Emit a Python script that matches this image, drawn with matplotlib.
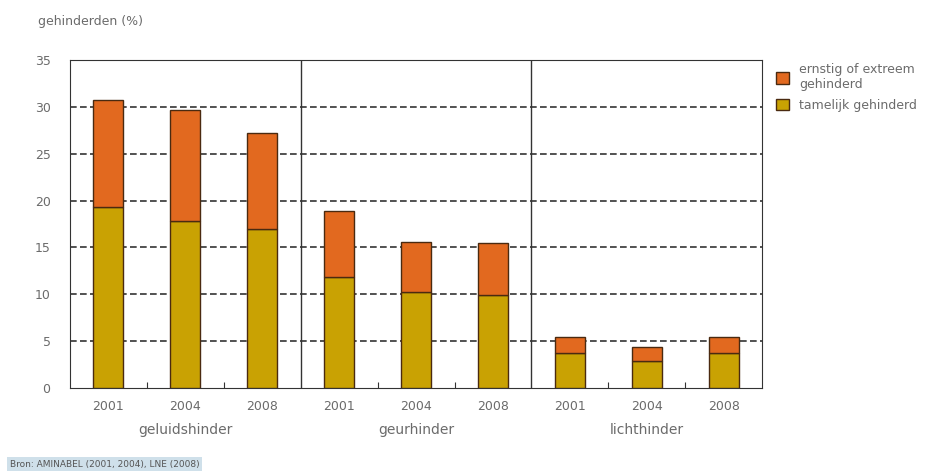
import matplotlib.pyplot as plt
import matplotlib.transforms as mtransforms
from matplotlib.patches import Patch

# Gegevens
groepen = ['geluidshinder', 'geurhinder', 'lichthinder']
jaren = ['2001', '2004', '2008']
tamelijk = [19.3, 17.8, 17.0, 11.8, 10.2, 9.9, 3.7, 2.9, 3.7]
ernstig = [11.4, 11.9, 10.2, 7.1, 5.4, 5.6, 1.7, 1.5, 1.8]

kleur_oranje = '#E2691F'
kleur_geel = '#C9A203'
rand = '#4a2a10'
grijs = '#6b6b6b'

fig = plt.figure(figsize=(9.33, 4.71), dpi=100)
ax = fig.add_axes([0.075, 0.176, 0.742, 0.697])

x = list(range(len(tamelijk)))
ax.bar(x, tamelijk, width=0.39, color=kleur_geel, edgecolor=rand, linewidth=1, zorder=3)
ax.bar(x, ernstig, width=0.39, bottom=tamelijk, color=kleur_oranje, edgecolor=rand,
       linewidth=1, zorder=3)

ax.set_xlim(-0.5, 8.5)
ax.set_ylim(0, 35)
ax.set_yticks(range(0, 36, 5))
for y in range(5, 35, 5):
    ax.axhline(y, color='#333333', linestyle=(0, (4, 2)), linewidth=1.2, zorder=1)

# scheidingslijnen tussen groepen
for xd in [2.5, 5.5]:
    ax.axvline(xd, color='#333333', linewidth=1, zorder=2)

ax.set_xticks([0.5, 1.5, 3.5, 4.5, 6.5, 7.5])
ax.set_xticklabels([])
ax.tick_params(axis='x', direction='in', length=4, color='#333333')
ax.tick_params(axis='y', length=0, labelcolor=grijs, labelsize=9, pad=14)
for s in ax.spines.values():
    s.set_color('#333333')

trans = mtransforms.blended_transform_factory(ax.transData, fig.transFigure)
for i in x:
    ax.text(i, 1 - 407 / 471, jaren[i % 3], transform=trans, ha='center', va='center',
            color=grijs, fontsize=9)
for g, naam in enumerate(groepen):
    ax.text(g * 3 + 1, 1 - 430 / 471, naam, transform=trans, ha='center', va='center',
            color=grijs, fontsize=10)

fig.text(38 / 933, 1 - 22 / 471, 'gehinderden (%)', color=grijs, fontsize=9, va='center')

handles = [Patch(facecolor=kleur_oranje, edgecolor=rand, label='ernstig of extreem\ngehinderd'),
           Patch(facecolor=kleur_geel, edgecolor=rand, label='tamelijk gehinderd')]
fig.legend(handles=handles, loc='upper left', bbox_to_anchor=(765 / 933, 1 - 52 / 471),
           frameon=False, labelcolor=grijs, fontsize=9, handlelength=1, handleheight=1,
           handletextpad=0.8, labelspacing=0.6)

fig.text(10 / 933, 1 - 464 / 471, 'Bron: AMINABEL (2001, 2004), LNE (2008)', color='#555555',
         fontsize=6.5, va='center',
         bbox=dict(facecolor='#cfe0ea', edgecolor='none', pad=2))

fig.savefig('out.png', dpi=100)
